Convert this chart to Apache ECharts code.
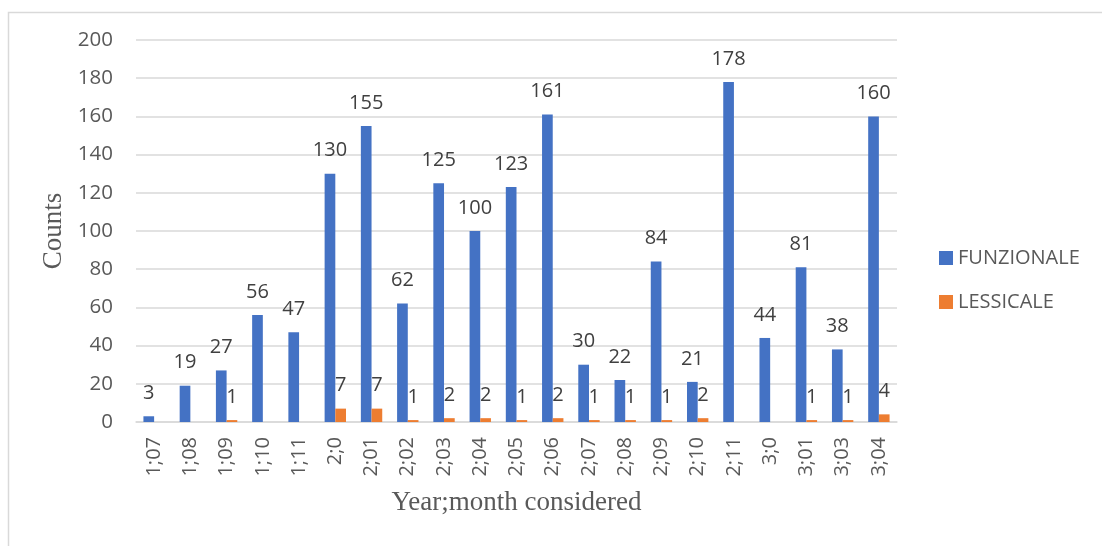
<!DOCTYPE html>
<html>
<head>
<meta charset="utf-8">
<script src="https://cdn.jsdelivr.net/npm/echarts@6/dist/echarts.min.js"></script>
<style>
  html, body { margin: 0; padding: 0; background: #fff; }
  #chart { width: 1102px; height: 546px; }
</style>
</head>
<body>
<div id="chart"></div>
<script>
// conteggi per età (anno;mese)
const categories = ['1;07', '1;08', '1;09', '1;10', '1;11', '2;0', '2;01', '2;02', '2;03', '2;04',
    '2;05', '2;06', '2;07', '2;08', '2;09', '2;10', '2;11', '3;0', '3;01', '3;03', '3;04'];
const funzionale = [3, 19, 27, 56, 47, 130, 155, 62, 125, 100, 123, 161, 30, 22, 84, 21, 178, 44, 81, 38, 160];
// celle vuote = null (nessuna etichetta nel grafico)
const lessicale = [null, null, 1, null, null, 7, 7, 1, 2, 2, 1, 2, 1, 1, 1, 2, null, null, 1, 1, 4];
const yTicks = { min: 0, max: 200, interval: 20 };

const chart = echarts.init(document.getElementById('chart'));

const labelStyle = {
    show: true,
    position: 'top',
    distance: 13,
    fontFamily: 'Open Sans',
    fontSize: 20,
    color: '#404040'
};

const option = {
    animation: false,
    backgroundColor: '#fff',
    graphic: [{
        type: 'rect',
        left: 6,
        top: 10,
        shape: { width: 1300, height: 700 },
        style: { fill: 'none', stroke: '#d9d9d9', lineWidth: 1.5 },
        silent: true
    }],
    grid: {
        left: 136,
        right: 205,
        top: 40,
        bottom: 124
    },
    legend: {
        orient: 'vertical',
        left: 939,
        top: 248,
        padding: 0,
        itemGap: 24,
        itemWidth: 14,
        itemHeight: 14,
        icon: 'rect',
        textStyle: { fontFamily: 'Open Sans', fontSize: 20, color: '#595959' },
        data: ['FUNZIONALE', 'LESSICALE']
    },
    xAxis: {
        type: 'category',
        data: categories,
        name: 'Year;month considered',
        nameLocation: 'middle',
        nameGap: 67,
        nameTextStyle: { fontFamily: 'Liberation Serif', fontSize: 27, color: '#595959' },
        axisLine: { lineStyle: { color: '#d9d9d9', width: 1.5 } },
        axisTick: { show: false },
        axisLabel: {
            rotate: 90,
            margin: 15,
            fontFamily: 'Open Sans',
            fontSize: 20,
            color: '#595959'
        }
    },
    yAxis: {
        type: 'value',
        min: yTicks.min,
        max: yTicks.max,
        interval: yTicks.interval,
        name: 'Counts',
        nameLocation: 'middle',
        nameRotate: 90,
        nameGap: 60,
        nameTextStyle: { fontFamily: 'Liberation Serif', fontSize: 27, color: '#595959' },
        axisLine: { show: false },
        axisTick: { show: false },
        splitLine: { lineStyle: { color: '#d9d9d9', width: 1.5 } },
        axisLabel: {
            margin: 23,
            fontFamily: 'Open Sans',
            fontSize: 20.5,
            color: '#595959'
        }
    },
    series: [
        {
            name: 'FUNZIONALE',
            type: 'bar',
            data: funzionale,
            barGap: '0%',
            barCategoryGap: '41%',
            itemStyle: { color: '#4472C4' },
            label: labelStyle
        },
        {
            name: 'LESSICALE',
            type: 'bar',
            data: lessicale,
            barGap: '0%',
            barCategoryGap: '41%',
            itemStyle: { color: '#ED7D31' },
            label: labelStyle
        }
    ]
};

chart.setOption(option);
</script>
</body>
</html>
